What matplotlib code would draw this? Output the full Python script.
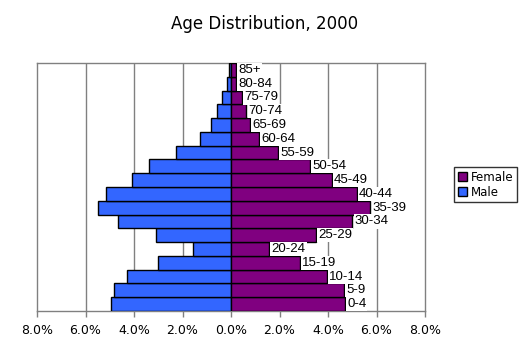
import matplotlib
matplotlib.use("Agg")
import matplotlib.pyplot as plt
from matplotlib.patches import Patch
from matplotlib.ticker import FuncFormatter

age_groups = ["0-4", "5-9", "10-14", "15-19", "20-24", "25-29", "30-34", "35-39",
              "40-44", "45-49", "50-54", "55-59", "60-64", "65-69", "70-74",
              "75-79", "80-84", "85+"]
male = [4.96, 4.84, 4.27, 3.03, 1.56, 3.08, 4.68, 5.50, 5.15, 4.10, 3.40, 2.26,
        1.27, 0.82, 0.57, 0.37, 0.16, 0.08]
female = [4.69, 4.65, 3.95, 2.84, 1.57, 3.50, 5.00, 5.75, 5.18, 4.15, 3.25, 1.94,
          1.15, 0.77, 0.63, 0.45, 0.19, 0.19]
x_ticks = [-8, -6, -4, -2, 0, 2, 4, 6, 8]

male_color = "#3366FF"
female_color = "#800080"
grid_color = "#808080"

plt.rcParams["font.family"] = "DejaVu Sans"

fig = plt.figure(figsize=(5.29, 3.43), dpi=100)
ax = fig.add_axes([37 / 529, 32 / 343, 388 / 529, 248 / 343])

y = list(range(len(age_groups)))
ax.barh(y, [-v for v in male], height=1.0, color=male_color,
        edgecolor="black", linewidth=1.0, zorder=3)
ax.barh(y, female, height=1.0, color=female_color,
        edgecolor="black", linewidth=1.0, zorder=3)

# age-group labels sit just past the end of each female bar
for yi, v, lab in zip(y, female, age_groups):
    ax.text(v + 0.1, yi, lab, ha="left", va="center", fontsize=9.5,
            family=["Liberation Sans Narrow", "Liberation Sans"],
            color="black", zorder=4,
            bbox=dict(facecolor="white", edgecolor="none", pad=0.8))

ax.set_xlim(-8, 8)
ax.set_ylim(-0.5, len(age_groups) - 0.5)
ax.set_xticks(x_ticks)
ax.xaxis.set_major_formatter(FuncFormatter(lambda v, p: f"{abs(v):.1f}%"))
ax.set_yticks([])
ax.tick_params(axis="x", direction="out", length=4, width=1, color=grid_color,
               labelsize=9, pad=5)

for xv in x_ticks[1:-1]:
    ax.axvline(xv, color=grid_color, linewidth=1, zorder=1)

for side in ["top", "left", "right", "bottom"]:
    ax.spines[side].set_color(grid_color)
    ax.spines[side].set_linewidth(1)

fig.text(0.5, 1 - 24 / 343, "Age Distribution, 2000", ha="center",
         va="center", fontsize=12)

handles = [Patch(facecolor=female_color, edgecolor="black", label="Female"),
           Patch(facecolor=male_color, edgecolor="black", label="Male")]
leg = fig.legend(handles=handles, loc="upper left",
                 bbox_to_anchor=(454 / 529, 1 - 167 / 343),
                 fontsize=8.5, frameon=True, fancybox=False,
                 handlelength=0.8, handleheight=0.8, handletextpad=0.3,
                 borderpad=0.3, labelspacing=0.2, borderaxespad=0)
leg.get_frame().set_edgecolor("black")
leg.get_frame().set_linewidth(1)

fig.savefig("out.png", dpi=100, facecolor="white")
